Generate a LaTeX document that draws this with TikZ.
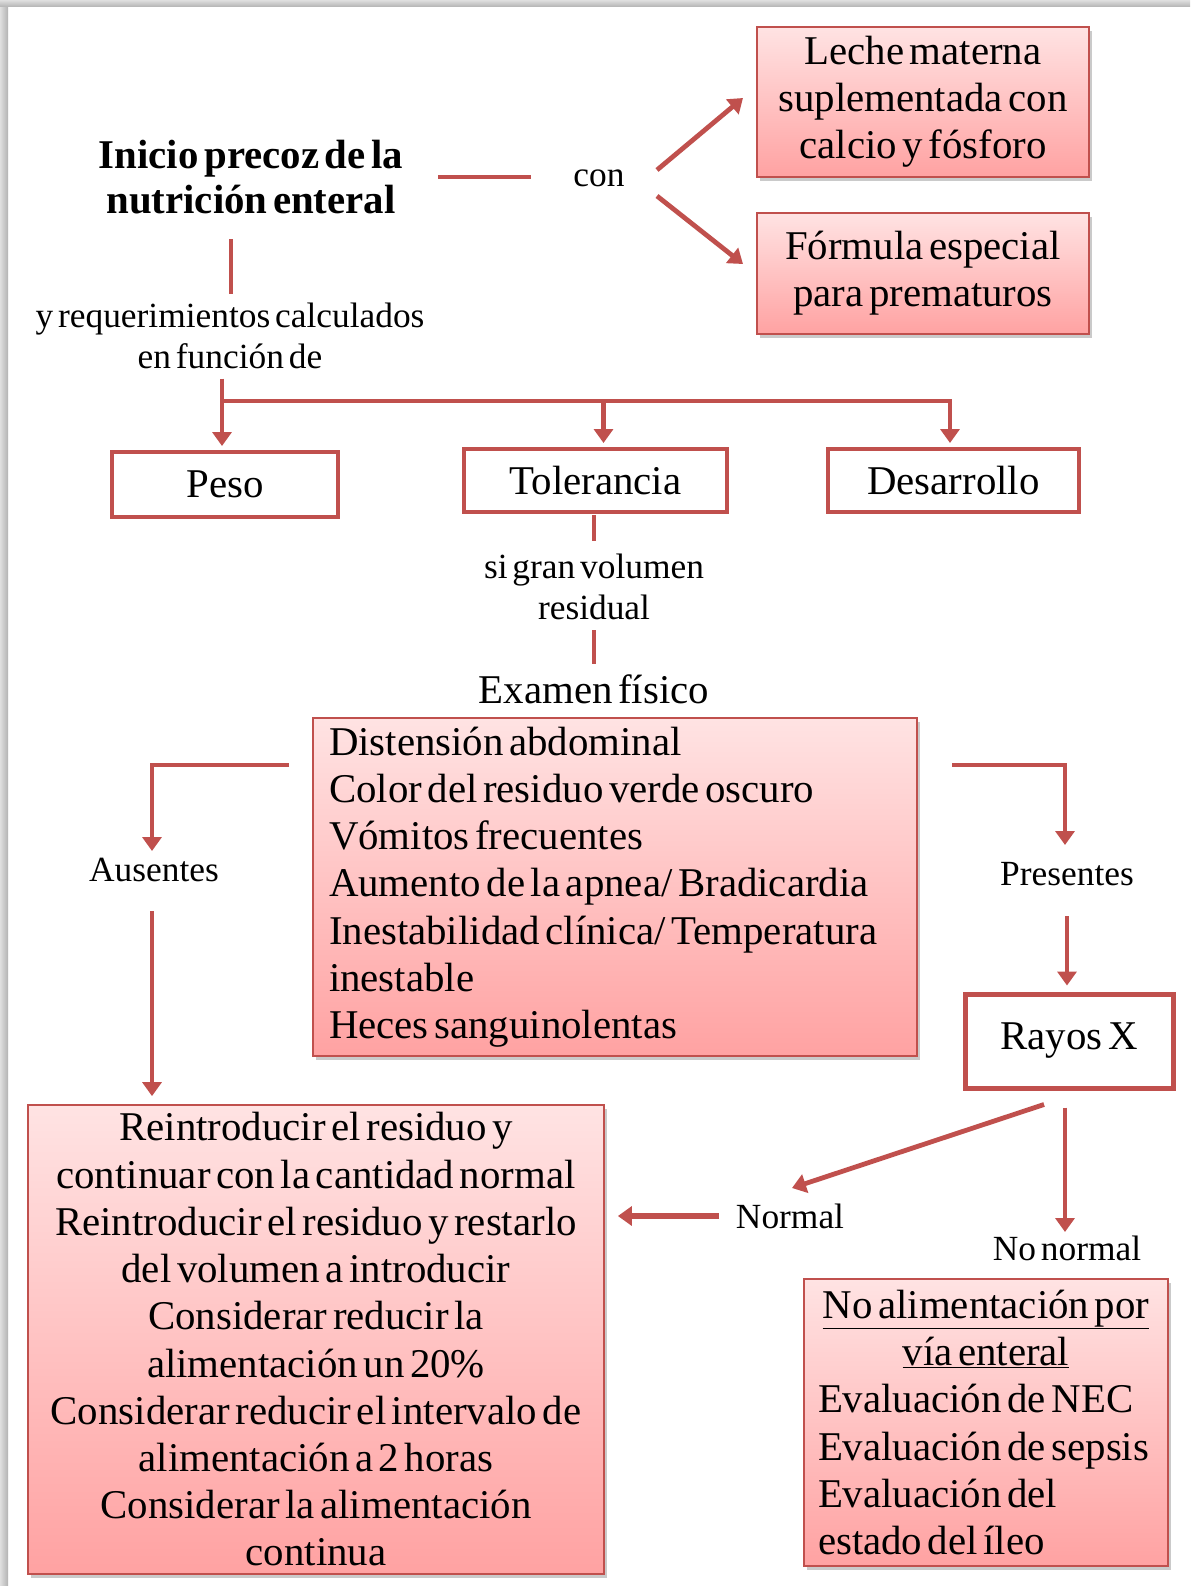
\documentclass[tikz,border=0pt]{standalone}
\usepackage{fontspec}
\setmainfont[WordSpace=0.55]{Liberation Serif}
\usetikzlibrary{arrows.meta,calc,shadows}
\definecolor{accred}{HTML}{C0504D}
\definecolor{boxtop}{HTML}{FFE3E3}
\definecolor{boxbot}{HTML}{FFA2A2}
\newcommand{\boxfont}{\fontsize{41}{47.4}\selectfont}
\newcommand{\lblfont}{\fontsize{35.5}{41}\selectfont}
\newcommand{\ctrline}[1]{\makebox[\hsize]{#1}}

\begin{document}
\begin{tikzpicture}[x=1bp, y=-1bp,
  conn/.style={accred, line width=4.8pt},
  arr/.style={conn, -{Triangle[length=14pt,width=19pt]}},
  gbox/.style={draw=accred, line width=1.8pt, top color=boxtop, bottom color=boxbot,
    drop shadow={shadow xshift=3pt, shadow yshift=-4pt, opacity=0.35, fill=black!60},
    font=\boxfont},
  wbox/.style={draw=accred, line width=4pt, fill=white, font=\boxfont},
  lbl/.style={font=\lblfont, align=center, inner sep=0pt}]
  \useasboundingbox (0,0) rectangle (1194,1592);
  % page shadow
  \shade[left color=gray!25, right color=gray!60] (0,0) rectangle (8,1585);
  \shade[top color=gray!25, bottom color=gray!60] (0,0) rectangle (1190,7);

  % top part
  \node[font=\fontsize{41}{46}\selectfont\bfseries, align=center] (title) at (251,177) {Inicio precoz de la\\nutrición enteral};
  \node[lbl] (con) at (599,178) {con};
  \node[gbox, minimum width=332bp, minimum height=150bp, align=center] (milk) at (923,102) {Leche materna\\suplementada con\\calcio y fósforo};
  \node[gbox, minimum width=332bp, minimum height=121bp, align=center] (formula) at (923,273.5) {Fórmula especial\\para prematuros};
  \node[lbl] (req) at (230,335.5) {y requerimientos calculados\\en función de};

  % criteria
  \node[wbox, minimum width=226bp, minimum height=65bp] (peso) at (225,484.5) {Peso};
  \node[wbox, minimum width=263bp, minimum height=63bp] (tol) at (595.5,480.5) {Tolerancia};
  \node[wbox, minimum width=251bp, minimum height=63bp] (desa) at (953.5,480.5) {Desarrollo};
  \node[lbl] (sigran) at (594,587) {si gran volumen\\residual};
  \node[font=\boxfont, inner sep=0pt] (exam) at (594,689) {Examen físico};
  \node[gbox, minimum width=604bp, minimum height=338bp, text width=572bp, align=flush left, inner ysep=2bp] (signs) at (615,887)
    {Distensión abdominal\\Color del residuo verde oscuro\\Vómitos frecuentes\\Aumento de la apnea/ Bradicardia\\Inestabilidad clínica/ Temperatura\\inestable\\Heces sanguinolentas};
  \node[lbl] (aus) at (154,870) {Ausentes};
  \node[lbl] (pres) at (1067,874) {Presentes};
  \node[wbox, line width=5pt, minimum width=208bp, minimum height=94bp] (rayos) at (1069,1041) {Rayos X};
  \node[lbl] (normal) at (790,1216) {Normal};
  \node[lbl] (nonormal) at (1067,1248) {No normal};

  % actions
  \node[gbox, minimum width=576bp, minimum height=469bp, text width=564bp, align=flush center, inner ysep=1bp] (reint) at (316,1339.5)
    {Reintroducir el residuo y\\continuar con la cantidad normal\\Reintroducir el residuo y restarlo\\del volumen a introducir\\Considerar reducir la\\alimentación un 20\%\\Considerar reducir el intervalo de\\alimentación a 2 horas\\Considerar la alimentación\\continua};
  \node[gbox, minimum width=364bp, minimum height=287bp, text width=336bp, align=flush left, inner ysep=2bp] (noalim) at (986,1422.5)
    {\ctrline{\underline{No alimentación por}}\\\ctrline{\underline{vía enteral}}\\Evaluación de NEC\\Evaluación de sepsis\\Evaluación del\\estado del íleo};

  % connectors
  \draw[conn] ($(title)+(187,0)$) -- ($(con)+(-68,-1)$);
  \draw[arr] ($(con)+(58,-8)$) -- ($(milk)+(-180,-4)$);
  \draw[arr] ($(con)+(58,18)$) -- ($(formula)+(-180,-9.5)$);
  \draw[conn] ($(title)+(-20,62)$) -- ($(req)+(1,-41.5)$);
  \coordinate (bus) at ($(req)+(-8,65.5)$);
  \draw[arr] ($(req)+(-8,43)$) -- ($(peso.north)+(-3,-4)$);
  \draw[arr] (bus) -| ($(desa.north)+(-3.5,-4)$);
  \draw[arr] (bus -| tol.north) ++(8,0) -- ($(tol.north)+(8,-4)$);
  \draw[conn] ($(tol.south)+(-1.5,1)$) -- ($(sigran)+(0,-46)$);
  \draw[conn] ($(sigran)+(0,43)$) -- ($(exam)+(0,-25)$);
  \draw[arr] ($(signs)+(-326,-122)$) -| ($(aus)+(-2,-19)$);
  \draw[arr] ($(aus)+(-2,41)$) -- ($(reint.north)+(-164,-8)$);
  \draw[arr] ($(signs)+(337,-122)$) -| ($(pres)+(-2,-29)$);
  \draw[arr] ($(pres)+(0,42)$) -- ($(rayos.north)+(-2,-6)$);
  \draw[arr] ($(rayos.south)+(-25,14)$) -- ($(normal)+(2,-28)$);
  \draw[arr] ($(rayos.south)+(-4,17)$) -- ($(nonormal)+(-2,-16)$);
  \draw[arr, line width=6pt] ($(normal)+(-71,0)$) -- ($(reint.east)+(13,-123.5)$);
\end{tikzpicture}
\end{document}
